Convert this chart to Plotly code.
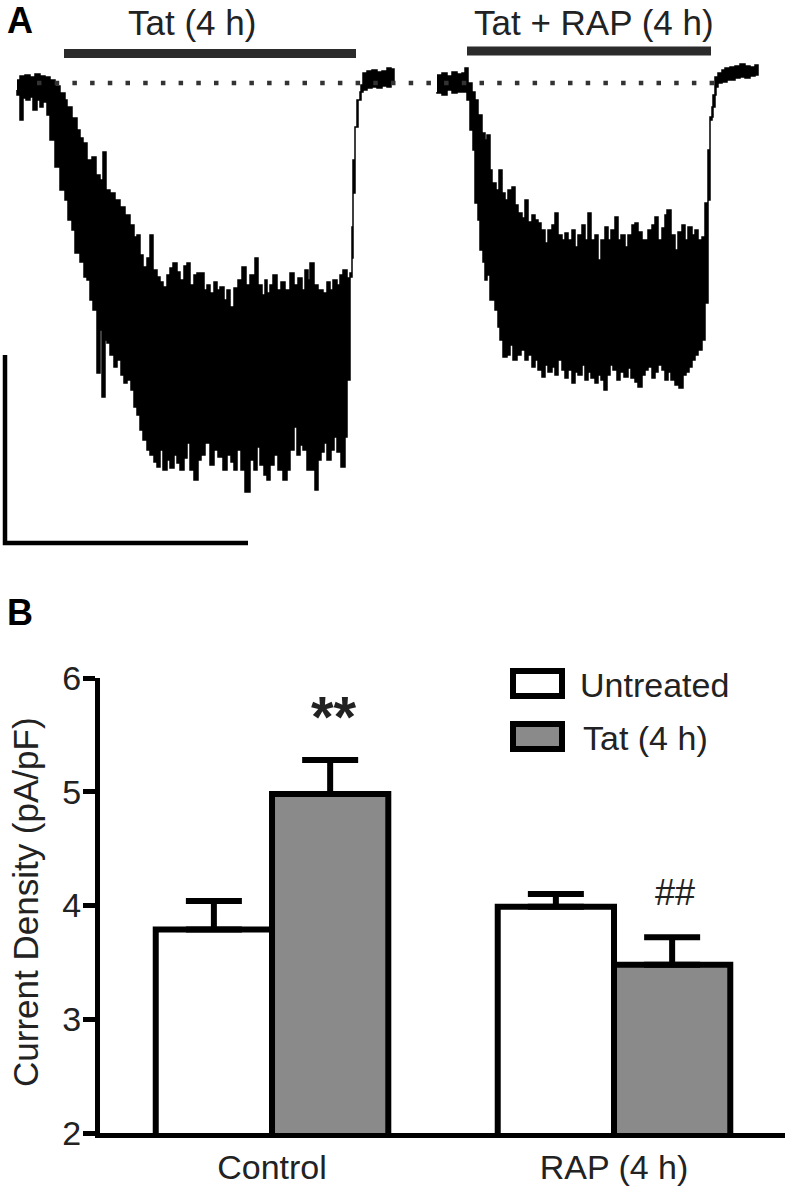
import plotly.graph_objects as go

# ---------------- Panel A data (read from the recordings; time and current in arbitrary units) -------------
# Left recording: Tat (4 h). Upper and lower envelopes of the noisy current trace.
tat_up_t = [17, 20, 25, 30, 35, 40, 45, 50, 55, 60, 65, 67, 72, 77, 80, 83, 87, 92, 96, 100, 103, 106, 110, 115,
            120, 125, 130, 134, 137, 140, 143, 147, 150, 153, 157, 160, 163, 167, 170, 173, 177, 180, 184, 187,
            190, 194, 197, 200, 204, 207, 210, 214, 217, 220, 224, 227, 230, 234, 238, 242, 246, 250, 255, 258,
            262, 265, 267, 270, 273, 277, 281, 285, 290, 294, 298, 302, 305, 308, 310, 314, 318, 323, 327, 330,
            333, 337, 340, 343, 347, 350, 352, 353, 355, 358, 361, 363, 367, 372, 377, 382, 387, 391, 394]
tat_up_i = [3, 7, 8, 6, 9, 7, 6, 3, -3, -10, -17, -24, -35, -47, -55, -60, -77, -74, -92, -97, -69, -107, -110, -117,
            -124, -132, -142, -154, -152, -172, -184, -175, -152, -187, -194, -199, -204, -192, -185, -180, -189, -197, -183, -180,
            -202, -192, -190, -190, -207, -202, -210, -199, -207, -204, -217, -207, -224, -205, -197, -184, -202, -192, -175, -202,
            -212, -197, -210, -202, -192, -207, -199, -207, -190, -202, -195, -207, -187, -197, -180, -202, -207, -210, -199, -207,
            -197, -202, -192, -187, -195, -190, -175, -110, -44, -17, -2, 10, 12, 13, 11, 12, 15, 14, 11]
tat_lo_t = [17, 20, 23, 26, 30, 33, 37, 40, 43, 47, 50, 55, 60, 65, 68, 72, 75, 80, 84, 87, 90, 93, 97, 100, 102,
            105, 107, 110, 114, 117, 121, 124, 127, 131, 134, 137, 140, 143, 147, 150, 154, 157, 160, 163, 167,
            170, 174, 177, 180, 184, 187, 190, 194, 198, 201, 205, 210, 214, 218, 223, 227, 231, 234, 237, 241,
            245, 250, 254, 257, 260, 264, 267, 270, 274, 278, 283, 287, 290, 294, 297, 300, 303, 307, 311, 315,
            318, 321, 324, 327, 331, 334, 337, 341, 345, 347, 350, 352, 353, 355, 357, 360, 363, 367, 372, 377,
            382, 387, 391, 394]
tat_lo_i = [-7, -12, -37, -15, -17, -14, -27, -17, -24, -19, -32, -57, -84, -107, -117, -137, -147, -170, -179, -194, -197, -217, -227, -290, -247,
            -314, -257, -260, -272, -284, -277, -292, -300, -297, -307, -324, -332, -347, -357, -367, -372, -379, -384, -367, -387,
            -377, -385, -372, -380, -387, -375, -360, -387, -397, -377, -372, -360, -382, -367, -374, -387, -372, -379, -387, -367,
            -387, -409, -377, -387, -364, -382, -392, -397, -382, -372, -387, -397, -387, -367, -344, -372, -362, -367, -387, -387,
            -407, -377, -369, -360, -377, -367, -354, -369, -384, -354, -297, -194, -144, -77, -44, -17, -9, -7, -5, -4,
            -5, -3, -4, 1]

# Right recording: Tat + RAP (4 h)
rap_up_t = [437, 442, 447, 452, 457, 462, 465, 468, 472, 475, 478, 482, 485, 487, 490, 492, 496, 499, 502, 505, 508,
            512, 515, 518, 522, 525, 528, 532, 535, 538, 541, 545, 548, 552, 555, 558, 562, 565, 568, 572, 575,
            578, 582, 585, 588, 591, 595, 598, 601, 605, 608, 611, 615, 618, 621, 625, 628, 632, 635, 638, 642,
            645, 648, 652, 655, 658, 662, 665, 667, 671, 675, 678, 682, 685, 688, 692, 695, 698, 702, 705, 708,
            710, 712, 715, 718, 722, 725, 730, 735, 740, 745, 750, 755, 758]
rap_up_i = [8, 10, 7, 11, 9, 10, 15, 0, -9, -17, -32, -50, -57, -52, -87, -100, -107, -87, -110, -117, -107,
            -104, -122, -130, -135, -117, -139, -132, -137, -140, -147, -160, -147, -142, -130, -152, -157, -150, -157, -147, -164,
            -152, -142, -157, -130, -157, -152, -177, -157, -144, -157, -147, -134, -157, -152, -164, -152, -142, -140, -149, -157,
            -157, -147, -142, -134, -157, -145, -132, -127, -152, -167, -149, -142, -157, -144, -152, -147, -157, -154, -120, -67,
            -37, -24, 6, 10, 13, 15, 16, 17, 19, 17, 16, 18, 15]
rap_lo_t = [437, 442, 447, 452, 457, 462, 467, 470, 473, 475, 478, 480, 483, 485, 487, 490, 492, 495, 498, 500, 503,
            507, 510, 513, 517, 521, 525, 528, 532, 535, 538, 542, 545, 548, 552, 555, 558, 562, 565, 568, 572,
            575, 578, 582, 585, 588, 591, 595, 598, 601, 604, 607, 610, 613, 617, 620, 624, 628, 631, 635, 638,
            642, 645, 648, 652, 655, 658, 662, 665, 668, 671, 675, 679, 683, 686, 689, 692, 695, 698, 702, 705,
            708, 710, 713, 716, 718, 722, 727, 731, 735, 740, 745, 750, 755, 758]
rap_lo_i = [-9, -10, -12, -7, -10, -9, -9, -17, -47, -67, -120, -137, -167, -179, -197, -192, -217, -217, -227, -244, -257,
            -274, -272, -262, -277, -272, -267, -277, -272, -284, -277, -287, -294, -282, -289, -284, -292, -277, -287, -295, -287,
            -300, -289, -292, -282, -297, -289, -295, -300, -292, -297, -307, -292, -282, -287, -297, -289, -294, -285, -295, -299,
            -304, -292, -287, -284, -295, -289, -282, -287, -297, -289, -297, -302, -305, -292, -289, -284, -277, -272, -267, -257,
            -220, -117, -34, -12, -4, 0, 1, 3, 3, 5, 6, 5, 7, 8]

# treatment periods (time units) and baseline
tat_period = [64, 356]
rap_period = [467, 711]
baseline_span = [37, 727]
scale_bar_t = [5, 248]      # horizontal calibration
scale_bar_i = [-460, -272]  # vertical calibration

# ---------------- Panel B data ----------------
categories = ["Control", "RAP (4 h)"]
untreated_mean = [3.79, 3.99]
untreated_sem = [0.25, 0.11]
tat_mean = [4.98, 3.48]
tat_sem = [0.30, 0.24]
y_ticks = [2, 3, 4, 5, 6]

W, H = 788, 1187
FONT = "Liberation Sans, Arial, Helvetica, sans-serif"
TXT = "#222222"
GRAY = "#8a8a8a"


def px(x):
    return x / W


def py(y):
    return 1 - y / H


fig = go.Figure()

# ---- Panel A traces ----
for t_up, i_up, t_lo, i_lo in [(tat_up_t, tat_up_i, tat_lo_t, tat_lo_i),
                               (rap_up_t, rap_up_i, rap_lo_t, rap_lo_i)]:
    fig.add_trace(go.Scatter(
        x=t_up + t_lo[::-1], y=i_up + i_lo[::-1], mode="lines", fill="toself",
        fillcolor="black", line=dict(color="black", width=1.5, shape="hv"),
        xaxis="x2", yaxis="y2", showlegend=False, hoverinfo="skip"))

# dotted baseline
fig.add_trace(go.Scatter(x=baseline_span, y=[0, 0], mode="lines",
                         line=dict(color="#333333", width=4.5, dash="4.5px,13.2px"),
                         xaxis="x2", yaxis="y2", showlegend=False, hoverinfo="skip"))
# treatment bars
for span, lvl in [(tat_period, 29.5), (rap_period, 32)]:
    fig.add_trace(go.Scatter(x=span, y=[lvl, lvl], mode="lines",
                             line=dict(color="#2b2b2b", width=9),
                             xaxis="x2", yaxis="y2", showlegend=False, hoverinfo="skip"))
# scale bar
fig.add_trace(go.Scatter(x=[scale_bar_t[0], scale_bar_t[0], scale_bar_t[1]],
                         y=[scale_bar_i[1], scale_bar_i[0], scale_bar_i[0]], mode="lines",
                         line=dict(color="black", width=4.5),
                         xaxis="x2", yaxis="y2", showlegend=False, hoverinfo="skip"))

# ---- Panel B bars ----
fig.add_trace(go.Bar(
    x=categories, y=untreated_mean, name="Untreated",
    marker=dict(color="white", line=dict(color="black", width=6)),
    error_y=dict(type="data", array=untreated_sem, arrayminus=[0, 0], symmetric=False,
                 color="black", thickness=6, width=28),
    showlegend=False))
fig.add_trace(go.Bar(
    x=categories, y=tat_mean, name="Tat (4 h)",
    marker=dict(color=GRAY, line=dict(color="black", width=6)),
    error_y=dict(type="data", array=tat_sem, arrayminus=[0, 0], symmetric=False,
                 color="black", thickness=6, width=28),
    showlegend=False))

annotations = [
    dict(text="<b>A</b>", x=px(20), y=py(20), font=dict(size=36, color="black", family=FONT)),
    dict(text="<b>B</b>", x=px(20), y=py(613), font=dict(size=36, color="black", family=FONT)),
    dict(text="Tat (4 h)", x=px(192), y=py(22), font=dict(size=35, color=TXT, family=FONT)),
    dict(text="Tat + RAP (4 h)", x=px(594), y=py(22), font=dict(size=35, color=TXT, family=FONT)),
    dict(text="Current Density (pA/pF)", x=px(25), y=py(902), textangle=-90,
         font=dict(size=35, color=TXT, family=FONT)),
    dict(text="<b>**</b>", x=px(334), y=py(716), font=dict(size=58, color=TXT, family=FONT)),
    dict(text="##", x=px(675), y=py(892), font=dict(size=36, color=TXT, family=FONT)),
    dict(text="Untreated", x=px(578), y=py(685), xanchor="left", font=dict(size=34, color=TXT, family=FONT)),
    dict(text="Tat (4 h)", x=px(581), y=py(738), xanchor="left", font=dict(size=34, color=TXT, family=FONT)),
]
for a in annotations:
    a.setdefault("xanchor", "center")
    a.setdefault("yanchor", "middle")
    a.update(xref="paper", yref="paper", showarrow=False)

shapes = [
    dict(type="rect", xref="paper", yref="paper", x0=px(513), x1=px(562), y0=py(671), y1=py(696),
         fillcolor="white", line=dict(color="black", width=6)),
    dict(type="rect", xref="paper", yref="paper", x0=px(513), x1=px(562), y0=py(724), y1=py(749),
         fillcolor=GRAY, line=dict(color="black", width=6)),
]

fig.update_layout(
    width=W, height=H, margin=dict(l=0, r=0, t=0, b=0, pad=0, autoexpand=False),
    paper_bgcolor="white", plot_bgcolor="white", showlegend=False,
    font=dict(family=FONT, color=TXT),
    barmode="group", bargap=0.32, bargroupgap=0,
    annotations=annotations, shapes=shapes,
    xaxis=dict(domain=[px(100), px(785)], range=[-0.503, 1.5], showline=True, linecolor="black",
               linewidth=5, ticks="", showgrid=False, zeroline=False, automargin=False,
               tickfont=dict(size=34, color=TXT, family=FONT)),
    yaxis=dict(domain=[py(1133), py(678)], range=[2, 6], tickvals=y_ticks, showline=True,
               linecolor="black", linewidth=5, ticks="outside", ticklen=12, tickwidth=5,
               tickcolor="black", showgrid=False, zeroline=False, automargin=False,
               ticklabelstandoff=-5,
               tickfont=dict(size=34, color=TXT, family=FONT)),
    xaxis2=dict(domain=[0, 1], range=[0, W], visible=False, anchor="y2"),
    yaxis2=dict(domain=[py(560), 1], range=[83 - 560, 83], visible=False, anchor="x2"),
)

fig.write_html("out.html", config={"displayModeBar": False},
               post_script="document.body.style.margin='0px';")
